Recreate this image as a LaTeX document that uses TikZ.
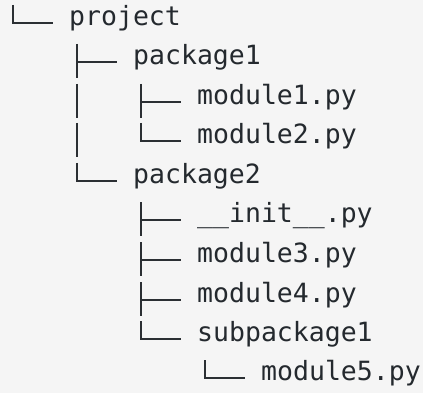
\documentclass[tikz,border=0pt]{standalone}
\usepackage{fontspec}
\newfontfamily\mono{DejaVu Sans Mono}
\definecolor{bgc}{HTML}{F5F5F5}
\definecolor{textc}{HTML}{24292E}
\definecolor{linec}{HTML}{2B2F33}
\tikzset{
  tree/.style={line width=2pt, draw=linec, line cap=butt, line join=miter},
  item/.style={anchor=west, inner sep=0pt, text height=0.75em, text depth=0.25em,
               font=\mono\fontsize{26.5}{30}\selectfont, text=textc},
}
\newcommand{\teeto}[1]{%
  \draw[tree] ([shift={(-56pt,18pt)}]#1.west) -- ([shift={(-56pt,-16pt)}]#1.west);
  \draw[tree] ([xshift=-56pt]#1.west) -- ([xshift=-16pt]#1.west);}
\newcommand{\ellto}[1]{%
  \draw[tree] ([shift={(-56pt,18pt)}]#1.west) |- ([xshift=-16pt]#1.west);}
\newcommand{\barat}[2]{%
  \draw[tree] ([shift={(#2,18pt)}]#1.west) -- ([shift={(#2,-16pt)}]#1.west);}
\begin{document}
\begin{tikzpicture}[x=1pt,y=-1pt]
  \fill[bgc] (0,0) rectangle (423,393);
  \useasboundingbox (0,0) rectangle (423,393);
  \node[item] (n0) at (69,23)  {project};
  \node[item] (n1) at (133,62) {package1};
  \node[item] (n2) at (197,102){module1.py};
  \node[item] (n3) at (197,141){module2.py};
  \node[item] (n4) at (133,181){package2};
  \node[item] (n5) at (197,220){\_\_init\_\_.py};
  \node[item] (n6) at (197,260){module3.py};
  \node[item] (n7) at (197,300){module4.py};
  \node[item] (n8) at (197,339){subpackage1};
  \node[item] (n9) at (261,378){module5.py};
  \ellto{n0}
  \teeto{n1}
  \teeto{n2} \barat{n2}{-120pt}
  \ellto{n3} \barat{n3}{-120pt}
  \ellto{n4}
  \teeto{n5}
  \teeto{n6}
  \teeto{n7}
  \ellto{n8}
  \ellto{n9}
\end{tikzpicture}
\end{document}
